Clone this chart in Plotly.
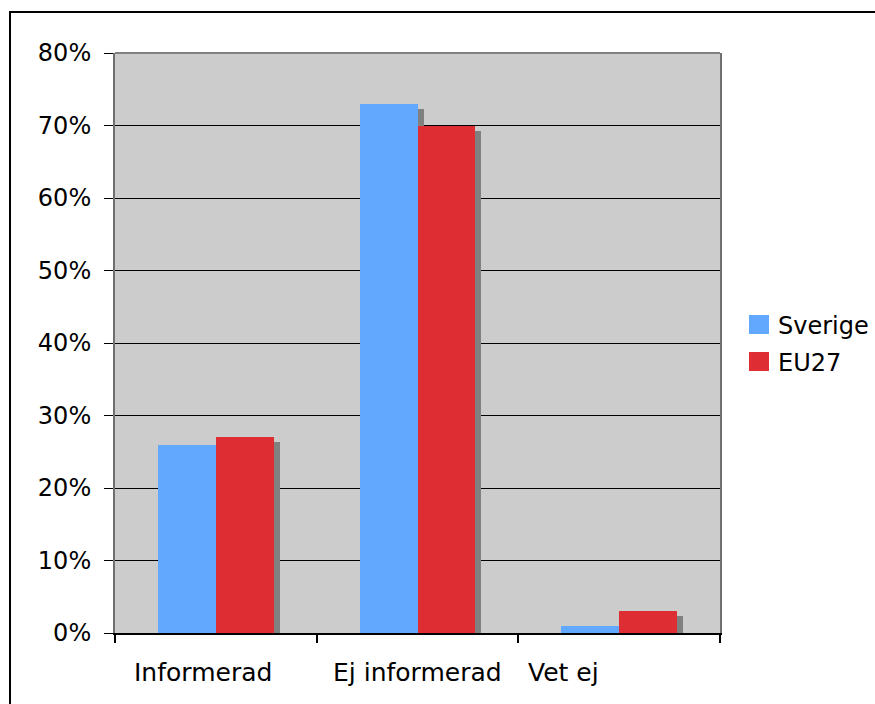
import plotly.graph_objects as go

# ---- data ----
categories = ["Informerad", "Ej informerad", "Vet ej"]
sverige = [0.26, 0.73, 0.01]
eu27 = [0.27, 0.70, 0.03]
series_names = ["Sverige", "EU27"]
y_tick_values = [0.0, 0.1, 0.2, 0.3, 0.4, 0.5, 0.6, 0.7, 0.8]

# ---- styling ----
W, H = 875, 704
PL, PR, PT, PB = 115, 720, 53, 633  # plot area in page pixels
FONT = "DejaVu Sans, Verdana, sans-serif"
FS = 24
col_sv = "#62A8FF"
col_eu = "#DE2E33"
col_shadow = "#808080"
bar_w = 0.2875
shadow_dx = 6 * 3 / (PR - PL)          # 6 px in category units
shadow_dy = 5 * 0.8 / (PB - PT)        # 5 px in value units

def px_x(px):
    return (px - PL) / (PR - PL)

def px_y(py):
    return (PB - py) / (PB - PT)

xs = list(range(len(categories)))

fig = go.Figure()
# shadows
for vals, off in [(sverige, -bar_w), (eu27, 0.0)]:
    fig.add_trace(go.Bar(
        x=xs, y=[max(v - shadow_dy, 0) for v in vals], width=bar_w,
        offset=off + shadow_dx, marker=dict(color=col_shadow, line=dict(width=0)),
        showlegend=False, hoverinfo="skip"))
# bars
fig.add_trace(go.Bar(x=xs, y=sverige, width=bar_w, offset=-bar_w, name=series_names[0],
                     marker=dict(color=col_sv, line=dict(width=0)), showlegend=False))
fig.add_trace(go.Bar(x=xs, y=eu27, width=bar_w, offset=0.0, name=series_names[1],
                     marker=dict(color=col_eu, line=dict(width=0)), showlegend=False))

shapes = []
annotations = []
# figure border (extends beyond right/bottom of image)
shapes.append(dict(type="rect", xref="paper", yref="paper",
                   x0=px_x(10), x1=px_x(900), y0=px_y(740), y1=px_y(12),
                   line=dict(color="black", width=2), layer="above"))
# top border of plot area
shapes.append(dict(type="line", xref="paper", yref="paper", x0=0, x1=1, y0=1, y1=1,
                   line=dict(color="#808080", width=2), layer="above"))
# legend
leg_items = [(series_names[0], col_sv, 315), (series_names[1], col_eu, 352)]
for name, col, top in leg_items:
    shapes.append(dict(type="rect", xref="paper", yref="paper",
                       x0=px_x(749), x1=px_x(769), y0=px_y(top + 19), y1=px_y(top),
                       fillcolor=col, line=dict(width=0), layer="above"))
    annotations.append(dict(text=name, xref="paper", yref="paper", x=px_x(776),
                            y=px_y(top + 11), xanchor="left", yanchor="middle",
                            showarrow=False, font=dict(family=FONT, size=FS, color="black")))
# category labels
label_shift = [17, 14, 8]
for i, c in enumerate(categories):
    annotations.append(dict(text=c, xref="x", yref="paper", x=i - 0.5, xshift=label_shift[i],
                            y=px_y(672), xanchor="left", yanchor="middle", showarrow=False,
                            font=dict(family=FONT, size=25, color="black")))

fig.update_layout(
    width=W, height=H, autosize=False,
    margin=dict(l=PL, r=W - PR, t=PT, b=H - PB, pad=0),
    paper_bgcolor="white", plot_bgcolor="#CCCCCC",
    barmode="overlay", bargap=0,
    font=dict(family=FONT, size=FS, color="black"),
    shapes=shapes, annotations=annotations,
    showlegend=False,
)
fig.update_xaxes(range=[-0.5, len(categories) - 0.5], tickvals=[i - 0.5 for i in range(len(categories) + 1)],
                 showticklabels=False, ticks="outside", ticklen=8, tickwidth=2, tickcolor="black",
                 showline=True, linecolor="black", linewidth=2, showgrid=False, zeroline=False, fixedrange=True)
fig.update_yaxes(range=[0, 0.8], tickvals=y_tick_values, tickformat=".0%",
                 ticks="outside", ticklen=9, tickwidth=1, tickcolor="black",
                 showline=True, linecolor="#707070", linewidth=2, mirror=True,
                 showgrid=True, gridcolor="black", gridwidth=1, zeroline=False,
                 tickfont=dict(family=FONT, size=FS, color="black"), ticklabelstandoff=8)

fig.write_html("out.html", config={"displayModeBar": False},
               post_script="document.body.style.margin='0px';")
